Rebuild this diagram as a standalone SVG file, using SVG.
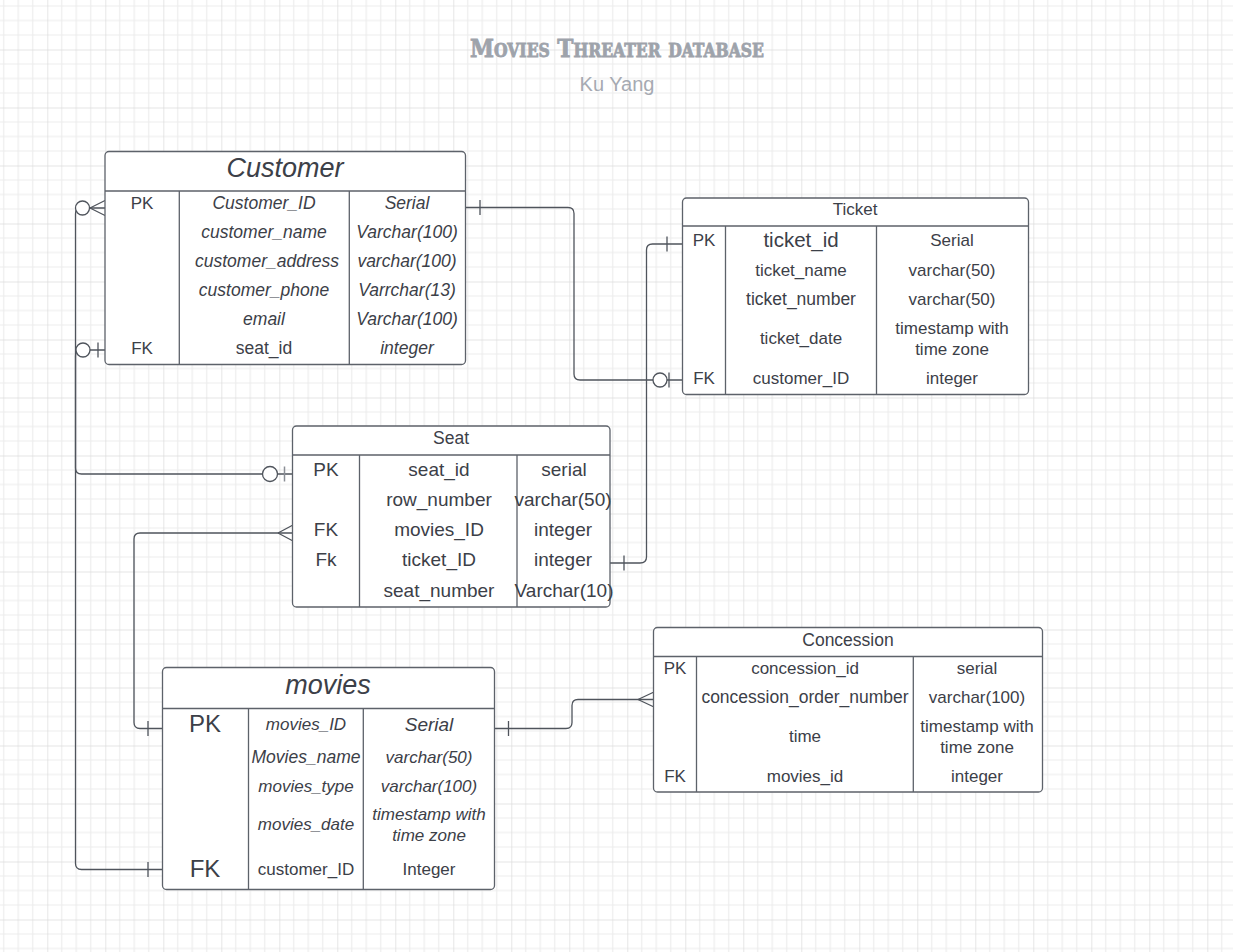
<svg xmlns="http://www.w3.org/2000/svg" width="1233" height="952" viewBox="0 0 1233 952">
<defs>
<pattern id="grid" x="47.3" y="49.5" width="58" height="58" patternUnits="userSpaceOnUse">
<path d="M14.5 0V58M29 0V58M43.5 0V58M0 14.5H58M0 29H58M0 43.5H58" stroke="#ececec" stroke-width="1.2" fill="none"/>
<path d="M0 0V58M0 0H58" stroke="#dcdcdc" stroke-width="1.4" fill="none"/>
</pattern>
<style>
.box{fill:#fff;stroke:#5d626a;stroke-width:1.3}
.ln{stroke:#5d626a;stroke-width:1.3;fill:none}
.cn{stroke:#4f545c;stroke-width:1.3;fill:none}
.cir{fill:#fff;stroke:#4f545c;stroke-width:1.3}
text{font-family:"Liberation Sans",Arial,sans-serif;fill:#3c4048;text-anchor:middle}
.t17{font-size:17px}
.t18{font-size:17.5px}
.t19{font-size:19px}
.i{font-style:italic}
.hd{font-size:27px;font-style:italic}
</style>
</defs>
<rect width="1233" height="952" fill="#fff"/>
<rect width="1233" height="952" fill="url(#grid)"/>

<g id="title">
<text x="617" y="57" style="font-family:'DejaVu Serif Condensed','DejaVu Serif',serif;font-weight:bold;font-variant:small-caps;font-size:25px;fill:#9ea3ab;stroke:#9ea3ab;stroke-width:0.8" textLength="294" lengthAdjust="spacingAndGlyphs">Movies Threater database</text>
<text x="617" y="91" style="font-size:20px;fill:#a6aab2">Ku Yang</text>
</g>

<g id="connectors">
<path class="cn" d="M465,207.5 H568 Q574,207.5 574,213.5 V374 Q574,380 580,380 H683"/>
<path class="cn" d="M480,200 V215 M669,372.5 V387.5"/>
<circle class="cir" cx="660" cy="380" r="7"/>
<path class="cn" d="M105,208 H81 Q75.5,208 75.5,214 V863.5 Q75.5,869.5 81.5,869.5 H163"/>
<path class="cn" d="M90,208 L105,200.5 M90,208 L105,215.5 M148,862 V877"/>
<circle class="cir" cx="82.5" cy="208" r="7"/>
<path class="cn" d="M105,350 H81 Q75.5,350 75.5,356 V468 Q75.5,474 81.5,474 H293"/>
<path class="cn" d="M98,342.5 V357.5"/>
<path d="M284.5,466.5 V481.5" stroke="#8a8e95" stroke-width="1.5"/>
<circle class="cir" cx="83" cy="350" r="7"/>
<circle class="cir" cx="270" cy="474" r="7.5"/>
<path class="cn" d="M163,728.5 H140 Q134,728.5 134,722.5 V539 Q134,533 140,533 H293"/>
<path class="cn" d="M278,533 L293,525 M278,533 L293,541 M148,721 V736"/>
<path class="cn" d="M610,563 H640 Q646.5,563 646.5,557 V250 Q646.5,244 652.5,244 H683"/>
<path class="cn" d="M624,555.5 V570.5 M667,236.5 V251.5"/>
<path class="cn" d="M494,728.5 H566 Q572,728.5 572,722.5 V705.5 Q572,699.5 578,699.5 H654"/>
<path class="cn" d="M508.5,721 V736 M638,699.5 L654,692 M638,699.5 L654,707"/>
</g>

<g id="customer">
<rect class="box" x="105" y="151.5" width="360.5" height="213" rx="4"/>
<path class="ln" d="M105,191 H465.5 M179.3,191 V364.5 M349.3,191 V364.5"/>
<text class="hd" x="285" y="177">Customer</text>
<text class="t17" x="142" y="209">PK</text>
<text class="t18 i" x="264" y="209">Customer_ID</text>
<text class="t18 i" x="407" y="209">Serial</text>
<text class="t18 i" x="264" y="238">customer_name</text>
<text class="t18 i" x="407" y="238">Varchar(100)</text>
<text class="t18 i" x="267" y="267">customer_address</text>
<text class="t18 i" x="407" y="267">varchar(100)</text>
<text class="t18 i" x="264" y="296">customer_phone</text>
<text class="t18 i" x="407" y="296">Varrchar(13)</text>
<text class="t18 i" x="264" y="325">email</text>
<text class="t18 i" x="407" y="325">Varchar(100)</text>
<text class="t17" x="142" y="354">FK</text>
<text class="t18" x="264" y="354">seat_id</text>
<text class="t18 i" x="407" y="354">integer</text>
</g>

<g id="ticket">
<rect class="box" x="682.5" y="198" width="346" height="196.5" rx="4"/>
<path class="ln" d="M682.5,226 H1028.5 M725.5,226 V394.5 M876.5,226 V394.5"/>
<text class="t17" x="855" y="215">Ticket</text>
<text class="t17" x="704" y="246">PK</text>
<text style="font-size:20.5px" x="801" y="247">ticket_id</text>
<text class="t17" x="952" y="246">Serial</text>
<text class="t17" x="801" y="276">ticket_name</text>
<text class="t17" x="952" y="276">varchar(50)</text>
<text class="t18" x="801" y="305">ticket_number</text>
<text class="t17" x="952" y="305">varchar(50)</text>
<text class="t17" x="801" y="344">ticket_date</text>
<text class="t17" x="952" y="334">timestamp with</text>
<text class="t17" x="952" y="355">time zone</text>
<text class="t17" x="704" y="384">FK</text>
<text class="t17" x="801" y="384">customer_ID</text>
<text class="t17" x="952" y="384">integer</text>
</g>

<g id="seat">
<rect class="box" x="292.5" y="426" width="317.5" height="181" rx="4"/>
<path class="ln" d="M292.5,455 H610 M359.5,455 V607 M517,455 V607"/>
<text class="t18" x="451" y="444">Seat</text>
<text class="t19" x="326" y="476">PK</text>
<text class="t19" x="439" y="476">seat_id</text>
<text class="t19" x="564" y="476">serial</text>
<text class="t19" x="439" y="506">row_number</text>
<text class="t19" x="563" y="506">varchar(50)</text>
<text class="t19" x="326" y="536">FK</text>
<text class="t19" x="439" y="536">movies_ID</text>
<text class="t19" x="563" y="536">integer</text>
<text class="t19" x="326" y="566">Fk</text>
<text class="t19" x="439" y="566">ticket_ID</text>
<text class="t19" x="563" y="566">integer</text>
<text class="t19" x="439" y="597">seat_number</text>
<text class="t19" x="564" y="597">Varchar(10)</text>
</g>

<g id="movies">
<rect class="box" x="162.5" y="667.5" width="332" height="222" rx="4"/>
<path class="ln" d="M162.5,708.5 H494.5 M248.5,708.5 V889.5 M363.3,708.5 V889.5"/>
<text class="hd" x="328" y="694">movies</text>
<text style="font-size:24px" x="205" y="732">PK</text>
<text class="t17 i" x="306" y="730">movies_ID</text>
<text class="t19 i" x="429" y="731">Serial</text>
<text class="t18 i" x="306" y="763">Movies_name</text>
<text class="t17 i" x="429" y="763">varchar(50)</text>
<text class="t17 i" x="306" y="792">movies_type</text>
<text class="t17 i" x="429" y="792">varchar(100)</text>
<text class="t17 i" x="306" y="830">movies_date</text>
<text class="t17 i" x="429" y="820">timestamp with</text>
<text class="t17 i" x="429" y="841">time zone</text>
<text style="font-size:24px" x="205" y="877">FK</text>
<text class="t17" x="306" y="875">customer_ID</text>
<text class="t17" x="429" y="875">Integer</text>
</g>

<g id="concession">
<rect class="box" x="653.5" y="627.5" width="389" height="164.5" rx="4"/>
<path class="ln" d="M653.5,656.5 H1042.5 M696.5,656.5 V792 M913.3,656.5 V792"/>
<text class="t18" x="848" y="646">Concession</text>
<text class="t17" x="675" y="674">PK</text>
<text class="t17" x="805" y="674">concession_id</text>
<text class="t17" x="977" y="674">serial</text>
<text class="t18" x="805" y="703">concession_order_number</text>
<text class="t17" x="977" y="703">varchar(100)</text>
<text class="t17" x="805" y="742">time</text>
<text class="t17" x="977" y="732">timestamp with</text>
<text class="t17" x="977" y="753">time zone</text>
<text class="t17" x="675" y="782">FK</text>
<text class="t17" x="805" y="782">movies_id</text>
<text class="t17" x="977" y="782">integer</text>
</g>
</svg>
